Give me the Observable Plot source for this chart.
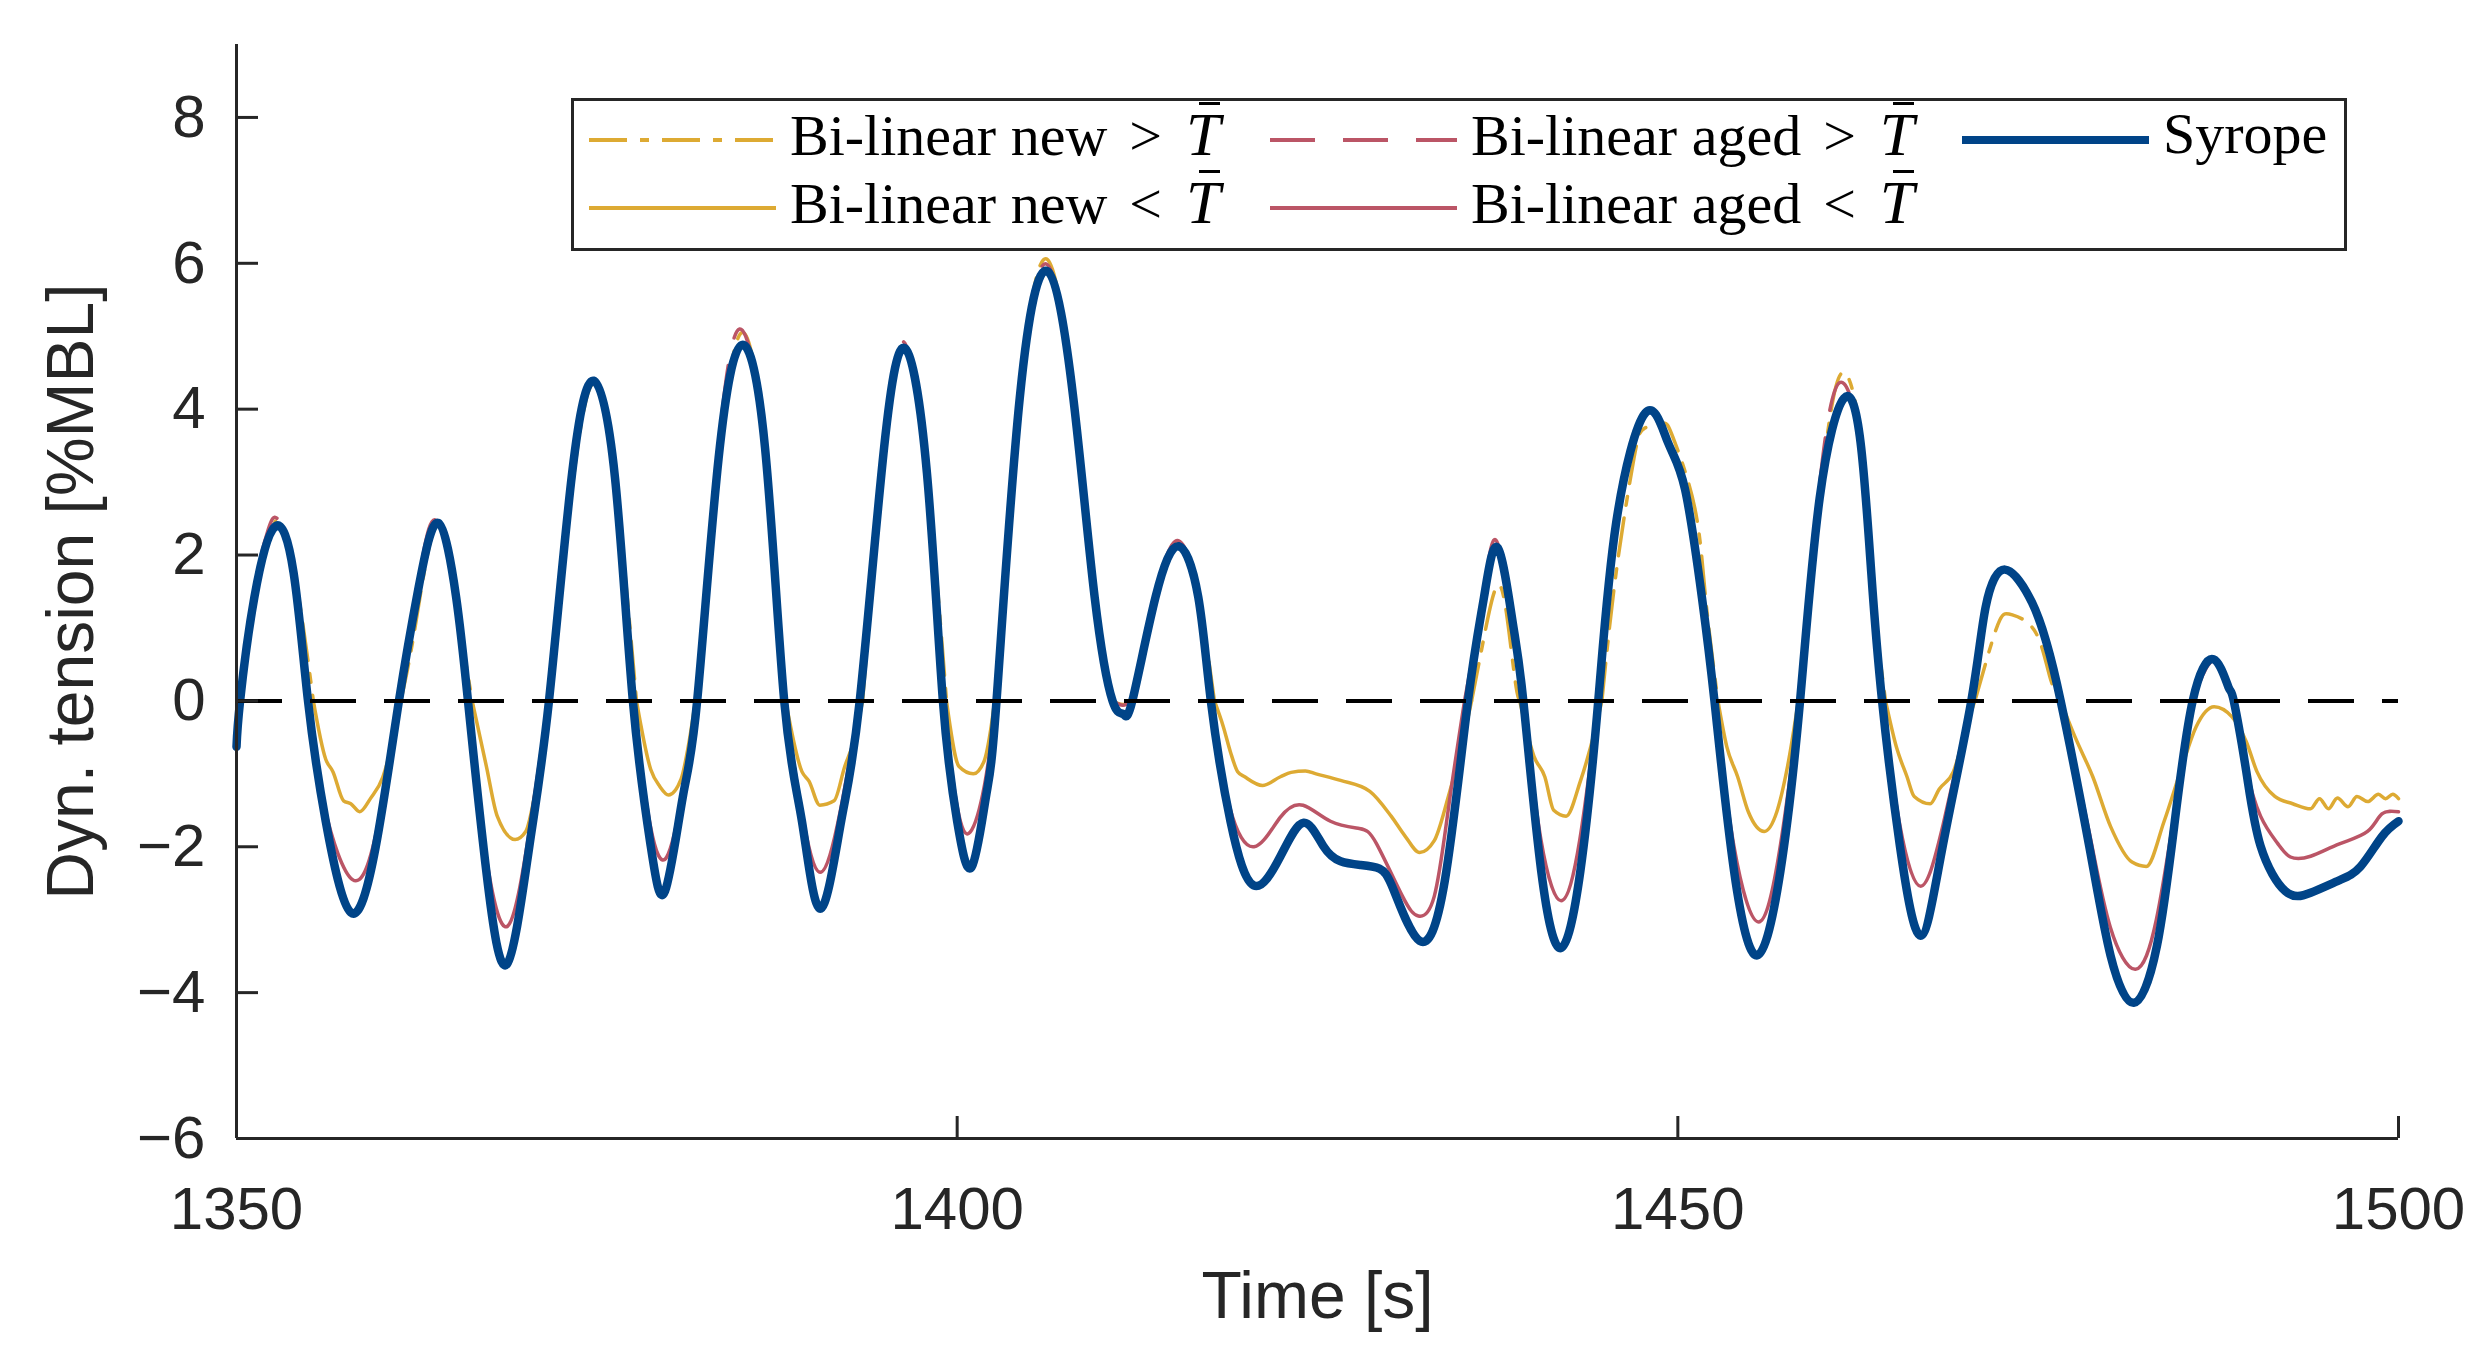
<!DOCTYPE html>
<html>
<head>
<meta charset="utf-8">
<script src="https://cdn.jsdelivr.net/npm/d3@7"></script>
<script src="https://cdn.jsdelivr.net/npm/@observablehq/plot@0.6"></script>
<style>
  body { margin: 0; background: white; }
  #wrap { position: relative; width: 2481px; height: 1354px; }
  #legend { position: absolute; left: 571px; top: 98px; width: 1776px; height: 153px; box-sizing: border-box;
            border: 3px solid #262626; background: white; font-family: "Liberation Serif", serif; font-size: 58px; color: #000; }
  .item { position: absolute; height: 58px; line-height: 58px; white-space: nowrap; }
  .rel { margin: 0 24px 0 22px; }
  .tb { font-style: italic; position: relative; display: inline-block; font-size: 62px; }
  .tb::before { content: ""; position: absolute; left: 13px; width: 21px; top: -3px; height: 3px; background: #000; }
</style>
</head>
<body>
<div id="wrap"><div id="chart"></div><div id="legend"></div></div>
<script>
// axes
const xDomain = [1350, 1500];
const yDomain = [-6, 9];
const xTicks = [1350, 1400, 1450, 1500];
const yTicks = [-6, -4, -2, 0, 2, 4, 6, 8];
const xLabel = "Time [s]";
const yLabel = "Dyn. tension [%MBL]";

// [time (s), dynamic tension (%MBL)]
const syrope = [
  [1350.0,-0.63],[1350.25,0],[1351.24,1.42],[1352.68,2.39],[1353.96,1.76],[1354.96,0],[1356.19,-1.65],[1357.93,-2.90],
  [1359.66,-2.0],[1361.27,0],[1362.64,1.56],[1364.0,2.44],[1365.24,1.42],[1366.06,0],[1367.34,-2.35],[1368.76,-3.61],
  [1370.32,-1.99],[1371.68,0],[1373.29,3.13],[1374.78,4.39],[1376.26,3.06],[1377.5,0],[1378.74,-1.99],[1379.73,-2.61],
  [1380.97,-1.31],[1381.96,0],[1383.45,3.33],[1385.06,4.88],[1386.67,3.47],[1388.0,0],[1389.23,-1.65],[1390.5,-2.85],
  [1391.95,-1.65],[1393.24,0],[1394.93,3.47],[1396.41,4.83],[1397.9,3.13],[1399.01,0],[1400.0,-1.65],[1401.0,-2.28],
  [1402.0,-1.31],[1402.73,0],[1404.34,4.15],[1406.27,5.89],[1408.06,4.15],[1409.54,1.42],[1410.78,0],[1411.53,-0.18],
  [1412.15,0],[1413.76,1.42],[1415.37,2.12],[1416.73,1.42],[1417.6,0],[1418.96,-1.65],[1420.57,-2.53],[1422.43,-2.13],
  [1424.04,-1.67],[1425.4,-1.99],[1426.6,-2.2],[1428.0,-2.25],[1429.3,-2.3],[1430.3,-2.6],[1432.09,-3.29],[1433.83,-2.47],
  [1435.44,0],[1436.55,1.42],[1437.5,2.1],[1438.54,1.08],[1439.28,0],[1440.52,-2.33],[1441.88,-3.39],[1443.24,-2.33],
  [1444.48,0],[1445.72,2.44],[1447.75,3.95],[1449.3,3.55],[1450.5,2.9],[1451.67,1.42],[1452.54,0],[1453.9,-2.33],
  [1455.51,-3.49],[1457.12,-2.33],[1458.48,0],[1459.84,2.78],[1461.53,4.15],[1462.68,3.54],[1463.42,1.76],[1464.17,0],
  [1465.41,-1.99],[1466.84,-3.22],[1468.38,-1.99],[1470.36,0],[1471.35,1.28],[1472.7,1.8],[1474.57,1.35],[1475.56,0.81],
  [1476.56,0],[1478.54,-1.99],[1480.02,-3.49],[1481.63,-4.14],[1483.24,-3.36],[1484.48,-1.65],[1485.72,0],[1487.16,0.57],
  [1488.2,0.19],[1488.57,0],[1489.44,-0.97],[1490.43,-1.99],[1492.16,-2.61],[1493.9,-2.63],[1495.88,-2.46],
  [1497.37,-2.27],[1498.85,-1.86],[1500,-1.65]
];

const bilinearAged = [
  [1350.0,-0.5],[1350.2,0],[1351.2,1.5],[1352.2,2.35],[1352.9,2.48],[1354.0,1.75],[1354.95,0],[1356.1,-1.45],
  [1358.05,-2.45],[1359.7,-1.8],[1361.25,0],[1362.6,1.6],[1363.8,2.48],[1365.2,1.45],[1366.05,0],[1367.3,-2.1],
  [1368.8,-3.09],[1370.3,-1.8],[1371.65,0],[1373.3,3.15],[1374.75,4.4],[1376.25,3.05],[1377.5,0],[1378.7,-1.7],
  [1379.85,-2.14],[1381.0,-1.2],[1381.95,0],[1383.4,3.4],[1384.9,5.1],[1386.65,3.5],[1388.0,0],[1389.2,-1.5],
  [1390.5,-2.35],[1391.9,-1.5],[1393.24,0],[1394.9,3.5],[1396.3,4.92],[1397.9,3.13],[1399.0,0],[1400.0,-1.45],
  [1400.9,-1.8],[1401.9,-1.15],[1402.73,0],[1404.3,4.2],[1406.2,5.99],[1408.06,4.15],[1409.54,1.42],[1410.8,0],
  [1411.5,-0.06],[1412.1,0],[1413.75,1.45],[1415.3,2.2],[1416.73,1.42],[1417.6,0],[1418.9,-1.45],[1420.6,-2.0],
  [1422.4,-1.6],[1424.0,-1.43],[1425.9,-1.65],[1427.9,-1.75],[1429.1,-1.96],[1430.9,-2.68],[1432.0,-2.95],
  [1433.1,-2.68],[1434.1,-1.45],[1435.2,0],[1436.5,1.45],[1437.4,2.2],[1438.5,1.1],[1439.28,0],[1440.5,-1.9],
  [1441.9,-2.74],[1443.2,-1.9],[1444.48,0],[1445.72,2.44],[1447.75,3.95],[1449.3,3.55],[1450.5,2.9],[1451.67,1.42],
  [1452.54,0],[1453.9,-2.0],[1455.6,-3.03],[1457.1,-2.0],[1458.48,0],[1459.8,2.9],[1461.2,4.36],[1462.7,3.5],
  [1463.4,1.76],[1464.17,0],[1465.4,-1.7],[1466.85,-2.54],[1468.4,-1.7],[1470.36,0],[1471.35,1.28],[1472.7,1.78],
  [1474.57,1.35],[1475.56,0.81],[1476.56,0],[1478.54,-1.8],[1480.0,-3.1],[1481.75,-3.68],[1483.2,-3.0],[1484.48,-1.5],
  [1485.72,0],[1487.16,0.55],[1488.2,0.17],[1488.57,0],[1489.4,-0.9],[1490.43,-1.58],[1491.6,-1.95],[1492.5,-2.14],
  [1493.9,-2.13],[1495.9,-1.96],[1497.85,-1.79],[1498.85,-1.55],[1500,-1.52]
];

const bilinearNew = [
  [1350.0,-0.5],[1350.2,0],[1351.2,1.45],[1352.5,2.35],[1352.9,2.42],[1354.0,1.75],[1355.33,0],[1356.19,-0.8],
  [1356.69,-0.97],[1357.43,-1.37],[1357.93,-1.41],[1358.55,-1.52],[1359.29,-1.34],[1360.16,-1.04],[1360.9,-0.49],
  [1361.4,0],[1362.39,1.01],[1363.9,2.42],[1365.2,1.42],[1366.35,0],[1367.34,-0.9],[1368.09,-1.58],[1369.33,-1.9],
  [1370.07,-1.79],[1370.81,-1.17],[1371.31,-0.63],[1371.8,0],[1373.35,3.0],[1374.8,4.35],[1376.26,3.06],[1377.75,0],
  [1378.74,-0.94],[1379.36,-1.17],[1379.98,-1.29],[1380.85,-1.07],[1381.34,-0.63],[1381.84,0],[1383.45,3.3],
  [1385.06,5.05],[1386.67,3.47],[1388.1,0],[1389.23,-0.97],[1389.72,-1.1],[1390.47,-1.43],[1391.46,-1.37],
  [1392.2,-0.9],[1392.82,-0.56],[1393.44,0],[1394.93,3.4],[1396.35,4.88],[1397.9,3.13],[1399.26,0],[1400.13,-0.9],
  [1401.12,-1.0],[1401.86,-0.83],[1402.36,-0.35],[1402.6,0],[1404.34,4.2],[1406.2,6.06],[1408.06,4.15],[1409.54,1.42],
  [1410.7,0],[1411.5,-0.05],[1412.1,0],[1413.76,1.42],[1415.3,2.17],[1416.73,1.42],[1417.85,0],[1418.46,-0.35],
  [1418.96,-0.7],[1419.46,-0.97],[1419.95,-1.04],[1421.19,-1.16],[1422.43,-1.04],[1423.17,-0.98],[1424.16,-0.96],
  [1424.9,-1.0],[1426.6,-1.09],[1428.63,-1.24],[1430.11,-1.58],[1431.1,-1.86],[1432.09,-2.08],[1433.09,-1.92],
  [1434.08,-1.31],[1435.07,-0.56],[1435.69,0],[1436.55,0.87],[1437.55,1.59],[1438.29,0.94],[1438.78,0.19],[1439.03,0],
  [1440.02,-0.76],[1440.77,-1.04],[1441.39,-1.5],[1442.25,-1.58],[1443.24,-1.1],[1444.23,-0.42],[1444.73,0],
  [1445.72,1.76],[1446.96,3.33],[1447.7,3.74],[1448.94,3.81],[1449.69,3.6],[1451.17,2.65],[1451.92,1.42],[1452.78,0],
  [1453.4,-0.63],[1454.15,-1.04],[1454.89,-1.52],[1456.0,-1.79],[1456.87,-1.52],[1457.61,-0.9],[1458.36,0],
  [1459.84,2.78],[1461.3,4.48],[1462.7,3.6],[1463.4,1.76],[1464.41,0],[1465.16,-0.63],[1465.9,-1.04],[1466.4,-1.31],
  [1467.51,-1.41],[1468.13,-1.21],[1469.12,-0.97],[1470.11,-0.29],[1470.61,0],[1471.48,0.6],[1472.34,1.11],
  [1473.21,1.18],[1474.82,0.94],[1475.81,0.33],[1476.56,0],[1477.55,-0.49],[1478.79,-1.04],[1480.02,-1.72],
  [1481.51,-2.21],[1482.5,-2.27],[1483.74,-1.65],[1484.98,-0.9],[1485.97,-0.35],[1487.21,-0.08],[1488.45,-0.22],
  [1489.44,-0.56],[1490.18,-0.97],[1491.42,-1.31],[1492.66,-1.41],[1493.9,-1.48],[1494.52,-1.34],[1495.14,-1.48],
  [1495.76,-1.33],[1496.5,-1.45],[1497.12,-1.31],[1497.86,-1.38],[1498.61,-1.28],[1499.1,-1.34],[1499.6,-1.28],[1500,-1.34]
];

const legendLabels = [
  "Bi-linear new<span class='rel'>&gt;</span><span class='tb'>T</span>",
  "Bi-linear new<span class='rel'>&lt;</span><span class='tb'>T</span>",
  "Bi-linear aged<span class='rel'>&gt;</span><span class='tb'>T</span>",
  "Bi-linear aged<span class='rel'>&lt;</span><span class='tb'>T</span>",
  "Syrope"
];

const YELLOW = "#DDAA33", RED = "#BB5566", BLUE = "#004488", AXIS = "#262626";
const dashDot = "38,13,9,13", dashed = "45,28";

const rows = pts => pts.map(([t, v]) => ({t, v}));
const above = d => d.v >= 0 ? d.v : NaN;   // > T-bar part
const below = d => d.v <= 0 ? d.v : NaN;   // < T-bar part
const fmt = d => d < 0 ? "\u2212" + Math.abs(d) : String(d);

const chart = Plot.plot({
  width: 2481,
  height: 1354,
  marginLeft: 236,
  marginRight: 83,
  marginTop: 44,
  marginBottom: 216,
  style: {fontFamily: "'Liberation Sans', Arial, sans-serif", fontSize: "60px", color: AXIS, background: "white"},
  x: {domain: xDomain},
  y: {domain: yDomain},
  marks: [
    Plot.line(rows(bilinearNew), {x: "t", y: below, stroke: YELLOW, strokeWidth: 3.5, curve: "monotone-x"}),
    Plot.line(rows(bilinearNew), {x: "t", y: above, stroke: YELLOW, strokeWidth: 3.5, strokeDasharray: dashDot, curve: "natural"}),
    Plot.line(rows(bilinearAged), {x: "t", y: below, stroke: RED, strokeWidth: 3.5, curve: "natural"}),
    Plot.line(rows(bilinearAged), {x: "t", y: above, stroke: RED, strokeWidth: 3.5, strokeDasharray: dashed, curve: "natural"}),
    Plot.line(rows(syrope), {x: "t", y: "v", stroke: BLUE, strokeWidth: 8.5, curve: "natural", strokeLinejoin: "round"}),
    Plot.ruleY([0], {stroke: "black", strokeWidth: 4, strokeDasharray: "46,28"}),
    Plot.ruleX([xDomain[0]], {stroke: AXIS, strokeWidth: 3}),
    Plot.ruleY([yDomain[0]], {stroke: AXIS, strokeWidth: 3}),
    Plot.axisX(xTicks, {tickSize: -22, tickPadding: 70, tickFormat: d => String(d), label: null, strokeWidth: 3, fontSize: 60}),
    Plot.axisY(yTicks, {tickSize: -22, tickPadding: 53, tickFormat: fmt, label: null, strokeWidth: 3, fontSize: 60}),
    Plot.text([xLabel], {frameAnchor: "bottom", dy: 179, text: d => d, fontSize: 66}),
    Plot.text([yLabel], {frameAnchor: "left", textAnchor: "middle", dx: -165, rotate: -90, text: d => d, fontSize: 66})
  ]
});

d3.select('#chart').append(() => chart);

// legend (3 columns, MATLAB column-major order)
const legendStyles = [
  {stroke: YELLOW, width: 4, dash: dashDot},
  {stroke: YELLOW, width: 4, dash: null},
  {stroke: RED, width: 4, dash: dashed},
  {stroke: RED, width: 4, dash: null},
  {stroke: BLUE, width: 8, dash: null}
];
const colX = [15, 696, 1388], rowY = [39, 107];
const legend = d3.select('#legend');
legendLabels.forEach((lab, i) => {
  const c = Math.floor(i / 2), r = i % 2, s = legendStyles[i];
  const svg = legend.append('svg').attr('class', 'item')
    .style('left', colX[c] + 'px').style('top', (rowY[r] - 8) + 'px')
    .attr('width', 187).attr('height', 16);
  svg.append('line').attr('x1', 0).attr('x2', 187).attr('y1', 8).attr('y2', 8)
    .attr('stroke', s.stroke).attr('stroke-width', s.width).attr('stroke-dasharray', s.dash);
  legend.append('div').attr('class', 'item')
    .style('left', (colX[c] + 201) + 'px').style('top', (rowY[r] - 35) + 'px')
    .html(lab);
});
</script>
</body>
</html>
